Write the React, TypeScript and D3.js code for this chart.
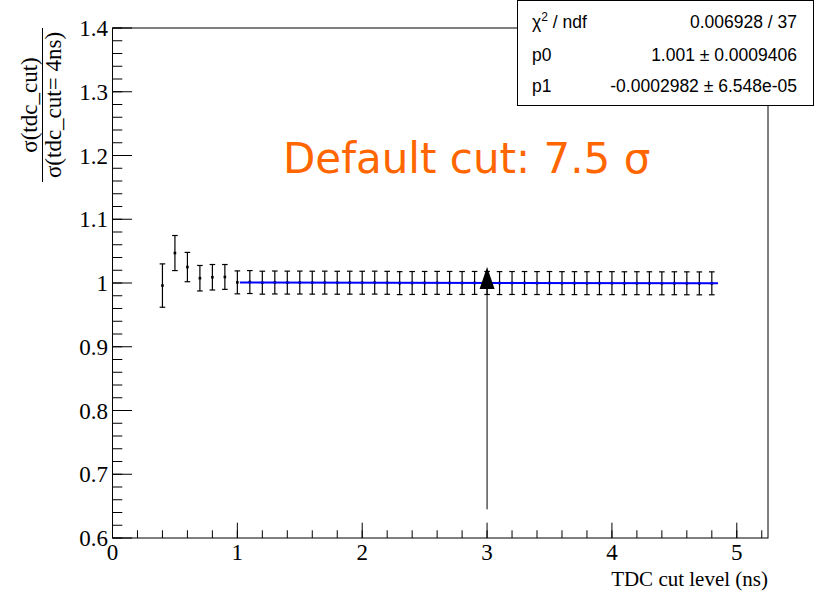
import React from 'react';
import * as d3 from 'd3';

// ---- data ----
const cutLevels = [
  0.4, 0.5, 0.6, 0.7, 0.8, 0.9,
  1.0, 1.1, 1.2, 1.3, 1.4, 1.5, 1.6, 1.7, 1.8, 1.9,
  2.0, 2.1, 2.2, 2.3, 2.4, 2.5, 2.6, 2.7, 2.8, 2.9,
  3.0, 3.1, 3.2, 3.3, 3.4, 3.5, 3.6, 3.7, 3.8, 3.9,
  4.0, 4.1, 4.2, 4.3, 4.4, 4.5, 4.6, 4.7, 4.8,
];
const ratios = [
  0.996, 1.047, 1.025, 1.0075, 1.009, 1.0095,
  1.001, 1.0015, 1.0005, 1.0008, 1.0006, 1.0007, 1.0005, 1.0006, 1.0004, 1.0005,
  1.0004, 1.0006, 1.0003, 0.9998, 1.0, 1.0001, 1.0002, 1.0001, 1.0, 1.0001,
  1.0, 0.9999, 1.0, 1.0, 0.9999, 1.0, 0.9998, 0.9998, 0.9997, 0.9997,
  0.9998, 0.9996, 0.9997, 0.9996, 0.9995, 0.9996, 0.9995, 0.9994, 0.9995,
];
const ratioErrors = [
  0.034, 0.0275, 0.023, 0.02, 0.02, 0.0195,
  0.018, 0.018, 0.018, 0.018, 0.018, 0.018, 0.018, 0.018, 0.018, 0.018,
  0.018, 0.018, 0.018, 0.018, 0.018, 0.018, 0.018, 0.018, 0.018, 0.018,
  0.018, 0.018, 0.018, 0.018, 0.018, 0.018, 0.018, 0.018, 0.018, 0.018,
  0.018, 0.018, 0.018, 0.018, 0.018, 0.018, 0.018, 0.018, 0.018,
];
const xDomain = [0, 5.25];
const yDomain = [0.6, 1.4];
const xMajorTicks = [0, 1, 2, 3, 4, 5];
const xMinorStep = 0.2;
const yMajorTicks = [0.6, 0.7, 0.8, 0.9, 1.0, 1.1, 1.2, 1.3, 1.4];
const yMinorStep = 0.02;
const fitRange = [1.02, 4.85];
const fitP0 = 1.001;
const fitP1 = -0.0002982;
const arrowX = 3;
const arrowFrom = 0.645;
const arrowTo = 1.025;
const statsNames = ['p0', 'p1'];
const statsValues = ['1.001 ± 0.0009406', '-0.0002982 ± 6.548e-05'];
const chi2Text = '0.006928 / 37';
const annotation = 'Default cut: 7.5 σ';
const xTitle = 'TDC cut level (ns)';
const yTitleNum = 'σ(tdc_cut)';
const yTitleDen = 'σ(tdc_cut= 4ns)';

const W = 817;
const H = 596;
const L = 112.5, R = 768, T = 28, B = 538;
const SERIF = '"Liberation Serif", "Times New Roman", serif';
const SANS = '"Liberation Sans", Arial, sans-serif';

export default function App() {
  const x = d3.scaleLinear().domain(xDomain).range([L, R]);
  const y = d3.scaleLinear().domain(yDomain).range([B, T]);

  const xMinor = d3.range(0, xDomain[1] + 1e-9, xMinorStep);
  const yMinor = d3.range(yDomain[0], yDomain[1] + 1e-9, yMinorStep);

  const fitLine = d3.line<number>()
    .x((d) => x(d))
    .y((d) => y(fitP0 + fitP1 * d));

  const ax = x(arrowX);
  const aTop = y(arrowTo);
  const headH = 22;
  const headW = 7.5;

  return (
    <svg width={W} height={H} style={{ position: 'absolute', left: 0, top: 0, background: '#fff' }}>
      <rect x={0} y={0} width={W} height={H} fill="#fff" />
      {/* frame */}
      <rect x={L} y={T} width={R - L} height={B - T} fill="none" stroke="#000" strokeWidth={1} />

      {/* x ticks */}
      {xMinor.map((v, i) => (
        <line key={'xm' + i} x1={x(v)} x2={x(v)} y1={B} y2={B - 7.7} stroke="#000" />
      ))}
      {xMajorTicks.map((v) => (
        <line key={'xM' + v} x1={x(v)} x2={x(v)} y1={B} y2={B - 15.3} stroke="#000" />
      ))}
      {xMajorTicks.map((v) => (
        <text key={'xl' + v} x={x(v)} y={560} fontFamily={SERIF} fontSize={23} textAnchor="middle">
          {d3.format('d')(v)}
        </text>
      ))}
      <text x={R} y={586} fontFamily={SERIF} fontSize={21} textAnchor="end">{xTitle}</text>

      {/* y ticks */}
      {yMinor.map((v, i) => (
        <line key={'ym' + i} x1={L} x2={L + 9.8} y1={y(v)} y2={y(v)} stroke="#000" />
      ))}
      {yMajorTicks.map((v) => (
        <line key={'yM' + v} x1={L} x2={L + 19.6} y1={y(v)} y2={y(v)} stroke="#000" />
      ))}
      {yMajorTicks.map((v) => (
        <text key={'yl' + v} x={108} y={y(v) + 8} fontFamily={SERIF} fontSize={23} textAnchor="end">
          {Math.abs(v - 1) < 1e-9 ? '1' : d3.format('.1f')(v)}
        </text>
      ))}

      {/* y title as fraction */}
      <g transform="translate(0,105) rotate(-90)">
        <text x={0} y={37} fontFamily={SERIF} fontSize={23} textAnchor="middle">{yTitleNum}</text>
        <line x1={-77} x2={77} y1={42.5} y2={42.5} stroke="#000" strokeWidth={1} />
        <text x={0} y={61} fontFamily={SERIF} fontSize={23} textAnchor="middle">{yTitleDen}</text>
      </g>

      {/* error bars */}
      {cutLevels.map((c, i) => {
        const cx = x(c);
        const y1 = y(ratios[i] + ratioErrors[i]);
        const y0 = y(ratios[i] - ratioErrors[i]);
        return (
          <g key={'p' + i} stroke="#000" strokeWidth={1.2}>
            <line x1={cx} x2={cx} y1={y1} y2={y0} />
            <line x1={cx - 2.8} x2={cx + 2.8} y1={y1} y2={y1} />
            <line x1={cx - 2.8} x2={cx + 2.8} y1={y0} y2={y0} />
            <rect x={cx - 1.3} y={y(ratios[i]) - 1.3} width={2.6} height={2.6} fill="#000" stroke="none" />
          </g>
        );
      })}

      {/* fit */}
      <path d={fitLine(fitRange) || ''} fill="none" stroke="#0000ff" strokeWidth={2} />

      {/* arrow */}
      <line x1={ax} x2={ax} y1={y(arrowFrom)} y2={aTop + headH} stroke="#000" strokeWidth={1} />
      <path d={`M${ax},${aTop} L${ax + headW},${aTop + headH} L${ax - headW},${aTop + headH} Z`} fill="#000" />

      {/* annotation */}
      <text x={283} y={173} fontFamily='"DejaVu Sans", sans-serif' fontSize={42} fill="#ff6600">{annotation}</text>

      {/* stats box */}
      <rect x={517.5} y={0.5} width={296} height={105} fill="#fff" stroke="#000" strokeWidth={1} />
      <text x={532} y={28} fontFamily={SANS} fontSize={17.5}>
        χ<tspan dy={-7} fontSize={12}>2</tspan><tspan dy={7}> / ndf</tspan>
      </text>
      <text x={797} y={28} fontFamily={SANS} fontSize={17.5} textAnchor="end">{chi2Text}</text>
      {statsNames.map((n, i) => (
        <g key={n}>
          <text x={532} y={61 + i * 31} fontFamily={SANS} fontSize={17.5}>{n}</text>
          <text x={797} y={61 + i * 31} fontFamily={SANS} fontSize={17.5} textAnchor="end">{statsValues[i]}</text>
        </g>
      ))}
    </svg>
  );
}
